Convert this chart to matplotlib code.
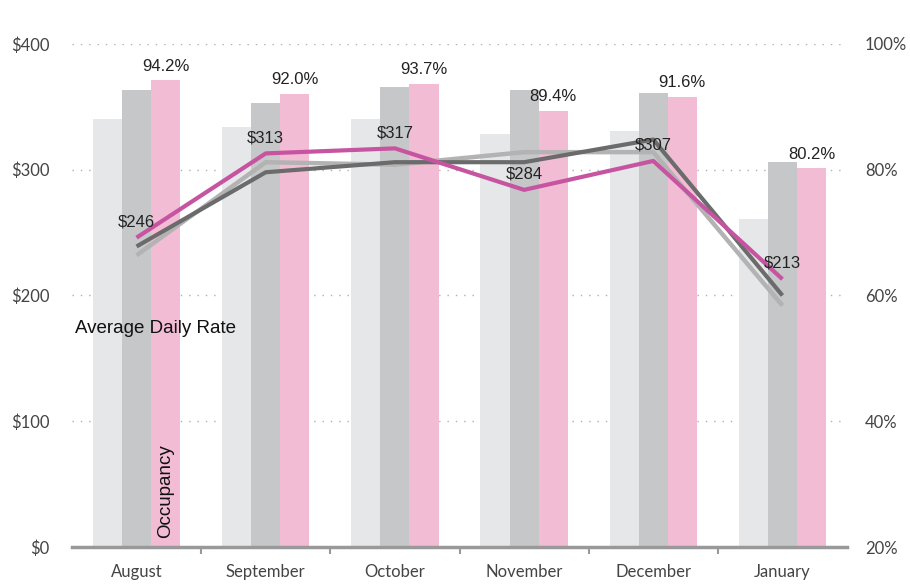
import matplotlib.pyplot as plt
import numpy as np

# months and data
months = ['August', 'September', 'October', 'November', 'December', 'January']

# occupancy (%) bars, right axis
occ_prev2 = [88.1, 86.8, 88.1, 85.7, 86.1, 72.2]
occ_prev1 = [92.7, 90.6, 93.2, 92.7, 92.2, 81.2]
occ_curr = [94.2, 92.0, 93.7, 89.4, 91.6, 80.2]

# average daily rate ($) lines, left axis
adr_prev2 = [232, 306, 304, 314, 314, 192]
adr_prev1 = [239, 298, 306, 306, 324, 200]
adr_curr = [246, 313, 317, 284, 307, 213]

c_light = '#e6e7e8'
c_mid = '#c6c7c9'
c_pink = '#f3bcd5'
c_line_light = '#b3b3b3'
c_line_dark = '#6b6b6b'
c_magenta = '#c654a0'
tick_font = 'Lato'
ann_font = 'Liberation Sans'

fig = plt.figure(figsize=(9.1, 5.88), dpi=100)
ax2 = fig.add_axes([0.0791, 0.0697, 0.8517, 0.8555])  # bars (occupancy)
ax = ax2.twinx()  # lines (ADR) drawn on top

x = np.arange(len(months))
w = 0.225

# dotted gridlines
for v in [100, 200, 300, 400]:
    ax2.axhline(20 + v / 400 * 80, color='#b0b0b0', lw=1, ls=(0, (1, 5)), zorder=0)

ax2.bar(x - w, occ_prev2, w, color=c_light, zorder=2)
ax2.bar(x, occ_prev1, w, color=c_mid, zorder=2)
ax2.bar(x + w, occ_curr, w, color=c_pink, zorder=2)
for xi, v in zip(x, occ_curr):
    ax2.text(xi + w, v + 1.1, f'{v:.1f}%', ha='center', va='bottom',
             fontsize=12, family=ann_font, color='#222222')

ax2.set_ylim(20, 100)
ax2.set_xlim(-0.5, len(months) - 0.5)

ax.plot(x, adr_prev2, color=c_line_light, lw=3.2, solid_capstyle='butt')
ax.plot(x, adr_prev1, color=c_line_dark, lw=3, solid_capstyle='butt')
ax.plot(x, adr_curr, color=c_magenta, lw=3, solid_capstyle='butt')
for xi, v in zip(x, adr_curr):
    ax.text(xi, v + 6.5, f'${v}', ha='center', va='bottom',
            fontsize=12, family=ann_font, color='#222222')
ax.set_ylim(0, 400)

# axis labels written inside the plot
ax.text(-0.48, 174, 'Average Daily Rate', ha='left', va='center',
        fontsize=13.5, family=ann_font, color='#111111')
ax2.text(w, 21.5, 'Occupancy', rotation=90, ha='center', va='bottom',
         fontsize=13.5, family=ann_font, color='#111111')

# ticks
ax.yaxis.tick_left()
ax2.yaxis.tick_right()
ax.set_yticks([0, 100, 200, 300, 400])
ax.set_yticklabels(['$0', '$100', '$200', '$300', '$400'])
ax2.set_yticks([20, 40, 60, 80, 100])
ax2.set_yticklabels(['20%', '40%', '60%', '80%', '100%'])
ax.tick_params(axis='y', length=0, labelsize=12, labelcolor='#444444', pad=16)
ax2.tick_params(axis='y', length=0, labelsize=12, labelcolor='#444444', pad=13)
for a in (ax, ax2):
    for lab in a.get_yticklabels():
        lab.set_family(tick_font)
    for s in a.spines.values():
        s.set_visible(False)

ax2.set_xticks(x)
ax2.set_xticklabels(months, family=tick_font, fontsize=12, color='#444444')
ax2.set_xticks(x[:-1] + 0.5, minor=True)
ax2.tick_params(axis='x', which='major', length=0, pad=12)
ax2.tick_params(axis='x', which='minor', length=5, width=1.5, color='#999999')
ax2.spines['bottom'].set_visible(True)
ax2.spines['bottom'].set_color('#999999')
ax2.spines['bottom'].set_linewidth(2.5)

fig.savefig('out.png', dpi=100)
